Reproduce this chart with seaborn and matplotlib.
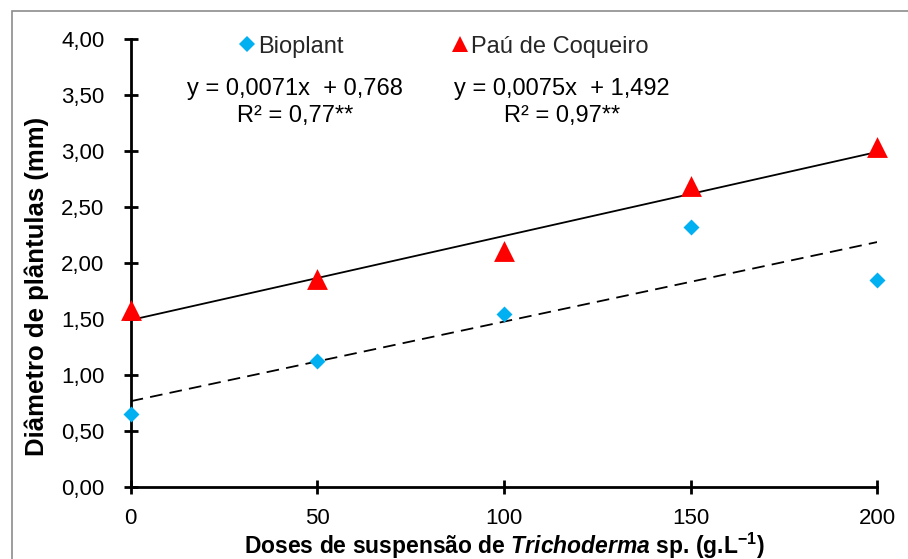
import numpy as np
import pandas as pd
import matplotlib
matplotlib.use("Agg")
import matplotlib.pyplot as plt
import seaborn as sns
from matplotlib.lines import Line2D
from matplotlib.patches import Rectangle
from matplotlib.ticker import FuncFormatter

# dados
doses = [0, 50, 100, 150, 200]
bioplant = [0.65, 1.13, 1.55, 2.32, 1.85]
pau_coqueiro = [1.58, 1.86, 2.11, 2.69, 3.04]

# coeficientes das regressoes (inclinacao, intercepto)
coef_bioplant = (0.0071, 0.768)
coef_pau = (0.0075, 1.492)

eq_bioplant = "y = 0,0071x  + 0,768\nR² = 0,77**"
eq_pau = "y = 0,0075x  + 1,492\nR² = 0,97**"

tratamentos = ["Bioplant", "Paú de Coqueiro"]
cores = {"Bioplant": "#00B0F0", "Paú de Coqueiro": "#FF0000"}

df = pd.DataFrame({
    "dose": doses * 2,
    "diametro": bioplant + pau_coqueiro,
    "tratamento": ["Bioplant"] * len(doses) + ["Paú de Coqueiro"] * len(doses),
})

sns.set_theme(style="white")
plt.rcParams["font.family"] = ["Liberation Sans", "DejaVu Sans"]
plt.rcParams["mathtext.fontset"] = "custom"
plt.rcParams["mathtext.rm"] = "Liberation Sans:bold"
plt.rcParams["mathtext.bf"] = "Liberation Sans:bold"
plt.rcParams["mathtext.it"] = "Liberation Sans:italic:bold"

fig = plt.figure(figsize=(9.08, 5.59), dpi=100)
ax = fig.add_axes([0.1439, 0.1283, 0.8222, 0.802])

# moldura cinza do grafico
fig.patches.append(Rectangle((12 / 908, -0.1), 1.2, 1 - 11 / 559 + 0.1,
                             transform=fig.transFigure, fill=False,
                             edgecolor="#8c8c8c", linewidth=1.2))

# linhas de tendencia
xs = np.array([min(doses), max(doses)])
sns.lineplot(x=xs, y=coef_pau[0] * xs + coef_pau[1], color="black",
             linewidth=1.3, ax=ax)
sns.lineplot(x=xs, y=coef_bioplant[0] * xs + coef_bioplant[1], color="black",
             linewidth=1.3, ax=ax)
ax.lines[-1].set_dashes([7, 4])

# pontos
sub = df[df.tratamento == "Bioplant"]
sns.scatterplot(data=sub, x="dose", y="diametro", marker="D", s=66,
                color=cores["Bioplant"], linewidth=0, ax=ax, zorder=3,
                clip_on=False)
sub = df[df.tratamento == "Paú de Coqueiro"]
sns.scatterplot(data=sub, x="dose", y="diametro", marker="^", s=225,
                color=cores["Paú de Coqueiro"], linewidth=0, ax=ax, zorder=3,
                clip_on=False)

ax.set_xlim(0, 200)
ax.set_ylim(0, 4)
ax.set_xticks(doses)
ax.set_yticks(np.arange(0, 4.01, 0.5))
ax.yaxis.set_major_formatter(FuncFormatter(lambda v, p: f"{v:.2f}".replace(".", ",")))

for s in ["top", "right"]:
    ax.spines[s].set_visible(False)
for s in ["left", "bottom"]:
    ax.spines[s].set_color("black")
    ax.spines[s].set_linewidth(2)

ax.tick_params(axis="both", direction="inout", length=10, width=2,
               color="black", labelsize=16, labelcolor="black")
ax.tick_params(axis="y", pad=14, left=True)
ax.tick_params(axis="x", pad=10, bottom=True)

ax.set_ylabel("Diâmetro de plântulas (mm)", fontsize=18.5, fontweight="bold",
              color="black")
ax.yaxis.set_label_coords(-0.110, 0.447)
ax.set_xlabel(r"Doses de suspensão de $\it{Trichoderma}$ sp. (g.L$^{-1}$)",
              fontsize=16.5, fontweight="bold", color="black", labelpad=1)

# legenda
handles = [
    Line2D([], [], marker="D", linestyle="", markersize=8,
           markerfacecolor=cores["Bioplant"], markeredgewidth=0),
    Line2D([], [], marker="^", linestyle="", markersize=11,
           markerfacecolor=cores["Paú de Coqueiro"], markeredgewidth=0),
]
ax.legend(handles, tratamentos, ncol=2, frameon=False, fontsize=17,
          loc="upper center", bbox_to_anchor=(0.42, 1.055),
          handlelength=0.6, handletextpad=0.15, columnspacing=4.65)

# equacoes
ax.text((295 - 130.7) / 746.6, (487.3 - 102.5) / 448.3, eq_bioplant,
        transform=ax.transAxes, ha="center", va="center", fontsize=17,
        linespacing=1.3, color="black")
ax.text((562 - 130.7) / 746.6, (487.3 - 102.5) / 448.3, eq_pau,
        transform=ax.transAxes, ha="center", va="center", fontsize=17,
        linespacing=1.3, color="black")

fig.savefig("out.png", dpi=100)
